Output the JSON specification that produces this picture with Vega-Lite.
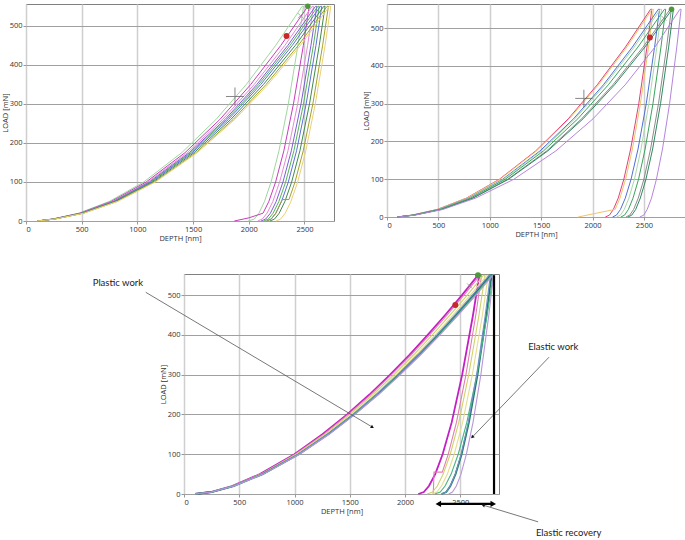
{
"$schema": "https://vega.github.io/schema/vega-lite/v6.json",
"autosize": {"type": "pad"},
"padding": {"left": 0, "top": 3, "right": 0, "bottom": 0},
"background": "white",
"config": {
 "view": {"stroke": "#808080", "strokeWidth": 1},
 "axis": {"format": "d", "labelFont": "Open Sans", "titleFont": "Open Sans", "labelFontSize": 7.5, "titleFontSize": 7.5, "titleFontWeight": "normal", "labelColor": "#333", "titleColor": "#333", "domain": false, "tickColor": "#999", "tickSize": 3, "labelPadding": 1, "titlePadding": 2},
 "axisY": {"titlePadding": 0}
},
"datasets": {
"tl": [
{"c":"c1","d":100,"p":0},{"c":"c1","d":236,"p":5},{"c":"c1","d":473,"p":20},{"c":"c1","d":747,"p":50},{"c":"c1","d":1057,"p":100},{"c":"c1","d":1398,"p":175},{"c":"c1","d":1705,"p":260},{"c":"c1","d":1978,"p":350},{"c":"c1","d":2242,"p":450},{"c":"c1","d":2479,"p":550},{"c":"c1","d":2491,"p":550},{"c":"c1","d":2441,"p":450},{"c":"c1","d":2355,"p":300},{"c":"c1","d":2271,"p":180},{"c":"c1","d":2200,"p":100},{"c":"c1","d":2141,"p":50},{"c":"c1","d":2091,"p":20},{"c":"c1","d":2050,"p":5},{"c":"c1","d":1995,"p":0},
{"c":"c2","d":100,"p":0},{"c":"c2","d":241,"p":5},{"c":"c2","d":483,"p":20},{"c":"c2","d":763,"p":50},{"c":"c2","d":1079,"p":100},{"c":"c2","d":1427,"p":175},{"c":"c2","d":1740,"p":260},{"c":"c2","d":2018,"p":350},{"c":"c2","d":2288,"p":450},{"c":"c2","d":2530,"p":550},{"c":"c2","d":2542,"p":550},{"c":"c2","d":2490,"p":450},{"c":"c2","d":2401,"p":300},{"c":"c2","d":2315,"p":180},{"c":"c2","d":2241,"p":100},{"c":"c2","d":2180,"p":50},{"c":"c2","d":2128,"p":20},{"c":"c2","d":2000,"p":8},{"c":"c2","d":1870,"p":0},
{"c":"c3","d":100,"p":0},{"c":"c3","d":245,"p":5},{"c":"c3","d":490,"p":20},{"c":"c3","d":775,"p":50},{"c":"c3","d":1095,"p":100},{"c":"c3","d":1449,"p":175},{"c":"c3","d":1766,"p":260},{"c":"c3","d":2049,"p":350},{"c":"c3","d":2324,"p":450},{"c":"c3","d":2569,"p":550},{"c":"c3","d":2581,"p":550},{"c":"c3","d":2528,"p":450},{"c":"c3","d":2439,"p":300},{"c":"c3","d":2352,"p":180},{"c":"c3","d":2277,"p":100},{"c":"c3","d":2216,"p":50},{"c":"c3","d":2164,"p":20},{"c":"c3","d":2121,"p":5},{"c":"c3","d":2080,"p":0},
{"c":"c4","d":100,"p":0},{"c":"c4","d":248,"p":5},{"c":"c4","d":496,"p":20},{"c":"c4","d":784,"p":50},{"c":"c4","d":1108,"p":100},{"c":"c4","d":1466,"p":175},{"c":"c4","d":1787,"p":260},{"c":"c4","d":2073,"p":350},{"c":"c4","d":2351,"p":450},{"c":"c4","d":2599,"p":550},{"c":"c4","d":2611,"p":550},{"c":"c4","d":2558,"p":450},{"c":"c4","d":2469,"p":300},{"c":"c4","d":2382,"p":180},{"c":"c4","d":2307,"p":100},{"c":"c4","d":2246,"p":50},{"c":"c4","d":2194,"p":20},{"c":"c4","d":2152,"p":5},{"c":"c4","d":2110,"p":0},
{"c":"c5","d":100,"p":0},{"c":"c5","d":250,"p":5},{"c":"c5","d":500,"p":20},{"c":"c5","d":790,"p":50},{"c":"c5","d":1117,"p":100},{"c":"c5","d":1478,"p":175},{"c":"c5","d":1802,"p":260},{"c":"c5","d":2090,"p":350},{"c":"c5","d":2370,"p":450},{"c":"c5","d":2620,"p":550},{"c":"c5","d":2632,"p":550},{"c":"c5","d":2580,"p":450},{"c":"c5","d":2491,"p":300},{"c":"c5","d":2405,"p":180},{"c":"c5","d":2331,"p":100},{"c":"c5","d":2270,"p":50},{"c":"c5","d":2218,"p":20},{"c":"c5","d":2176,"p":5},{"c":"c5","d":2135,"p":0},
{"c":"c6","d":100,"p":0},{"c":"c6","d":252,"p":5},{"c":"c6","d":504,"p":20},{"c":"c6","d":797,"p":50},{"c":"c6","d":1127,"p":100},{"c":"c6","d":1491,"p":175},{"c":"c6","d":1817,"p":260},{"c":"c6","d":2108,"p":350},{"c":"c6","d":2391,"p":450},{"c":"c6","d":2643,"p":550},{"c":"c6","d":2655,"p":550},{"c":"c6","d":2603,"p":450},{"c":"c6","d":2515,"p":300},{"c":"c6","d":2429,"p":180},{"c":"c6","d":2355,"p":100},{"c":"c6","d":2294,"p":50},{"c":"c6","d":2243,"p":20},{"c":"c6","d":2201,"p":5},{"c":"c6","d":2160,"p":0},
{"c":"c7","d":100,"p":0},{"c":"c7","d":255,"p":5},{"c":"c7","d":510,"p":20},{"c":"c7","d":806,"p":50},{"c":"c7","d":1140,"p":100},{"c":"c7","d":1508,"p":175},{"c":"c7","d":1838,"p":260},{"c":"c7","d":2132,"p":350},{"c":"c7","d":2418,"p":450},{"c":"c7","d":2673,"p":550},{"c":"c7","d":2685,"p":550},{"c":"c7","d":2633,"p":450},{"c":"c7","d":2545,"p":300},{"c":"c7","d":2459,"p":180},{"c":"c7","d":2385,"p":100},{"c":"c7","d":2324,"p":50},{"c":"c7","d":2273,"p":20},{"c":"c7","d":2231,"p":5},{"c":"c7","d":2190,"p":0},
{"c":"c8","d":100,"p":0},{"c":"c8","d":258,"p":5},{"c":"c8","d":516,"p":20},{"c":"c8","d":815,"p":50},{"c":"c8","d":1153,"p":100},{"c":"c8","d":1525,"p":175},{"c":"c8","d":1859,"p":260},{"c":"c8","d":2156,"p":350},{"c":"c8","d":2445,"p":450},{"c":"c8","d":2703,"p":550},{"c":"c8","d":2715,"p":550},{"c":"c8","d":2663,"p":450},{"c":"c8","d":2575,"p":300},{"c":"c8","d":2489,"p":180},{"c":"c8","d":2415,"p":100},{"c":"c8","d":2361,"p":55},{"c":"c8","d":2300,"p":55},{"c":"c8","d":2243,"p":20},{"c":"c8","d":2201,"p":5},{"c":"c8","d":2160,"p":0},
{"c":"c9","d":100,"p":0},{"c":"c9","d":260,"p":5},{"c":"c9","d":520,"p":20},{"c":"c9","d":821,"p":50},{"c":"c9","d":1162,"p":100},{"c":"c9","d":1537,"p":175},{"c":"c9","d":1873,"p":260},{"c":"c9","d":2173,"p":350},{"c":"c9","d":2464,"p":450},{"c":"c9","d":2724,"p":550},{"c":"c9","d":2736,"p":550},{"c":"c9","d":2685,"p":450},{"c":"c9","d":2597,"p":300},{"c":"c9","d":2512,"p":180},{"c":"c9","d":2439,"p":100},{"c":"c9","d":2378,"p":50},{"c":"c9","d":2327,"p":20},{"c":"c9","d":2286,"p":5},{"c":"c9","d":2245,"p":0}
],
"tr": [
{"c":"t1","d":100,"p":0},{"c":"t1","d":244,"p":5},{"c":"t1","d":489,"p":20},{"c":"t1","d":773,"p":50},{"c":"t1","d":1094,"p":100},{"c":"t1","d":1447,"p":175},{"c":"t1","d":1764,"p":260},{"c":"t1","d":2046,"p":350},{"c":"t1","d":2320,"p":450},{"c":"t1","d":2565,"p":550},{"c":"t1","d":2577,"p":550},{"c":"t1","d":2530,"p":450},{"c":"t1","d":2450,"p":300},{"c":"t1","d":2371,"p":180},{"c":"t1","d":2305,"p":100},{"c":"t1","d":2250,"p":50},{"c":"t1","d":2203,"p":20},{"c":"t1","d":2165,"p":5},{"c":"t1","d":2125,"p":0},
{"c":"t2","d":100,"p":0},{"c":"t2","d":246,"p":5},{"c":"t2","d":492,"p":20},{"c":"t2","d":778,"p":50},{"c":"t2","d":1100,"p":100},{"c":"t2","d":1455,"p":175},{"c":"t2","d":1774,"p":260},{"c":"t2","d":2058,"p":350},{"c":"t2","d":2334,"p":450},{"c":"t2","d":2580,"p":550},{"c":"t2","d":2592,"p":550},{"c":"t2","d":2545,"p":450},{"c":"t2","d":2466,"p":300},{"c":"t2","d":2388,"p":180},{"c":"t2","d":2322,"p":100},{"c":"t2","d":2267,"p":50},{"c":"t2","d":2220,"p":20},{"c":"t2","d":2160,"p":17},{"c":"t2","d":1860,"p":0},
{"c":"t3","d":100,"p":0},{"c":"t3","d":252,"p":5},{"c":"t3","d":503,"p":20},{"c":"t3","d":796,"p":50},{"c":"t3","d":1126,"p":100},{"c":"t3","d":1489,"p":175},{"c":"t3","d":1815,"p":260},{"c":"t3","d":2106,"p":350},{"c":"t3","d":2388,"p":450},{"c":"t3","d":2640,"p":550},{"c":"t3","d":2652,"p":550},{"c":"t3","d":2604,"p":450},{"c":"t3","d":2523,"p":300},{"c":"t3","d":2443,"p":180},{"c":"t3","d":2375,"p":100},{"c":"t3","d":2319,"p":50},{"c":"t3","d":2272,"p":20},{"c":"t3","d":2233,"p":5},{"c":"t3","d":2195,"p":0},
{"c":"t4","d":100,"p":0},{"c":"t4","d":254,"p":5},{"c":"t4","d":507,"p":20},{"c":"t4","d":802,"p":50},{"c":"t4","d":1134,"p":100},{"c":"t4","d":1501,"p":175},{"c":"t4","d":1829,"p":260},{"c":"t4","d":2122,"p":350},{"c":"t4","d":2406,"p":450},{"c":"t4","d":2660,"p":550},{"c":"t4","d":2672,"p":550},{"c":"t4","d":2626,"p":450},{"c":"t4","d":2548,"p":300},{"c":"t4","d":2472,"p":180},{"c":"t4","d":2408,"p":100},{"c":"t4","d":2354,"p":50},{"c":"t4","d":2309,"p":20},{"c":"t4","d":2272,"p":5},{"c":"t4","d":2235,"p":0},
{"c":"t5","d":100,"p":0},{"c":"t5","d":257,"p":5},{"c":"t5","d":515,"p":20},{"c":"t5","d":814,"p":50},{"c":"t5","d":1151,"p":100},{"c":"t5","d":1523,"p":175},{"c":"t5","d":1857,"p":260},{"c":"t5","d":2154,"p":350},{"c":"t5","d":2442,"p":450},{"c":"t5","d":2700,"p":550},{"c":"t5","d":2712,"p":550},{"c":"t5","d":2666,"p":450},{"c":"t5","d":2588,"p":300},{"c":"t5","d":2512,"p":180},{"c":"t5","d":2448,"p":100},{"c":"t5","d":2394,"p":50},{"c":"t5","d":2349,"p":20},{"c":"t5","d":2312,"p":5},{"c":"t5","d":2275,"p":0},
{"c":"t6","d":100,"p":0},{"c":"t6","d":263,"p":5},{"c":"t6","d":525,"p":20},{"c":"t6","d":831,"p":50},{"c":"t6","d":1175,"p":100},{"c":"t6","d":1554,"p":175},{"c":"t6","d":1894,"p":260},{"c":"t6","d":2198,"p":350},{"c":"t6","d":2492,"p":450},{"c":"t6","d":2755,"p":550},{"c":"t6","d":2767,"p":550},{"c":"t6","d":2721,"p":450},{"c":"t6","d":2642,"p":300},{"c":"t6","d":2565,"p":180},{"c":"t6","d":2500,"p":100},{"c":"t6","d":2445,"p":50},{"c":"t6","d":2400,"p":20},{"c":"t6","d":2362,"p":5},{"c":"t6","d":2325,"p":0},
{"c":"t7","d":100,"p":0},{"c":"t7","d":265,"p":5},{"c":"t7","d":529,"p":20},{"c":"t7","d":837,"p":50},{"c":"t7","d":1183,"p":100},{"c":"t7","d":1565,"p":175},{"c":"t7","d":1908,"p":260},{"c":"t7","d":2214,"p":350},{"c":"t7","d":2510,"p":450},{"c":"t7","d":2775,"p":550},{"c":"t7","d":2787,"p":550},{"c":"t7","d":2741,"p":450},{"c":"t7","d":2662,"p":300},{"c":"t7","d":2585,"p":180},{"c":"t7","d":2520,"p":100},{"c":"t7","d":2465,"p":50},{"c":"t7","d":2420,"p":20},{"c":"t7","d":2382,"p":5},{"c":"t7","d":2345,"p":0},
{"c":"t8","d":100,"p":0},{"c":"t8","d":272,"p":5},{"c":"t8","d":544,"p":20},{"c":"t8","d":862,"p":50},{"c":"t8","d":1235,"p":100},{"c":"t8","d":1643,"p":175},{"c":"t8","d":2005,"p":260},{"c":"t8","d":2318,"p":350},{"c":"t8","d":2608,"p":450},{"c":"t8","d":2850,"p":550},{"c":"t8","d":2862,"p":550},{"c":"t8","d":2820,"p":450},{"c":"t8","d":2750,"p":300},{"c":"t8","d":2681,"p":180},{"c":"t8","d":2622,"p":100},{"c":"t8","d":2574,"p":50},{"c":"t8","d":2532,"p":20},{"c":"t8","d":2499,"p":5},{"c":"t8","d":2460,"p":0}
],
"bt": [
{"c":"b1","d":100,"p":0},{"c":"b1","d":243,"p":5},{"c":"b1","d":435,"p":20},{"c":"b1","d":687,"p":50},{"c":"b1","d":999,"p":100},{"c":"b1","d":1253,"p":150},{"c":"b1","d":1476,"p":200},{"c":"b1","d":1678,"p":250},{"c":"b1","d":1865,"p":300},{"c":"b1","d":2040,"p":350},{"c":"b1","d":2205,"p":400},{"c":"b1","d":2363,"p":450},{"c":"b1","d":2515,"p":500},{"c":"b1","d":2660,"p":550},{"c":"b1","d":2672,"p":550},{"c":"b1","d":2615,"p":450},{"c":"b1","d":2517,"p":300},{"c":"b1","d":2422,"p":180},{"c":"b1","d":2340,"p":100},{"c":"b1","d":2273,"p":50},{"c":"b1","d":2216,"p":20},{"c":"b1","d":2170,"p":5},{"c":"b1","d":2120,"p":0},
{"c":"b2","d":100,"p":0},{"c":"b2","d":244,"p":5},{"c":"b2","d":437,"p":20},{"c":"b2","d":692,"p":50},{"c":"b2","d":1006,"p":100},{"c":"b2","d":1262,"p":150},{"c":"b2","d":1486,"p":200},{"c":"b2","d":1690,"p":250},{"c":"b2","d":1878,"p":300},{"c":"b2","d":2055,"p":350},{"c":"b2","d":2222,"p":400},{"c":"b2","d":2381,"p":450},{"c":"b2","d":2533,"p":500},{"c":"b2","d":2680,"p":550},{"c":"b2","d":2692,"p":550},{"c":"b2","d":2640,"p":450},{"c":"b2","d":2551,"p":300},{"c":"b2","d":2465,"p":180},{"c":"b2","d":2391,"p":100},{"c":"b2","d":2337,"p":55},{"c":"b2","d":2262,"p":55},{"c":"b2","d":2258,"p":20},{"c":"b2","d":2254,"p":0},
{"c":"b3","d":100,"p":0},{"c":"b3","d":246,"p":5},{"c":"b3","d":441,"p":20},{"c":"b3","d":699,"p":50},{"c":"b3","d":1016,"p":100},{"c":"b3","d":1276,"p":150},{"c":"b3","d":1503,"p":200},{"c":"b3","d":1709,"p":250},{"c":"b3","d":1900,"p":300},{"c":"b3","d":2078,"p":350},{"c":"b3","d":2247,"p":400},{"c":"b3","d":2408,"p":450},{"c":"b3","d":2563,"p":500},{"c":"b3","d":2711,"p":550},{"c":"b3","d":2723,"p":550},{"c":"b3","d":2669,"p":450},{"c":"b3","d":2576,"p":300},{"c":"b3","d":2486,"p":180},{"c":"b3","d":2409,"p":100},{"c":"b3","d":2345,"p":50},{"c":"b3","d":2292,"p":20},{"c":"b3","d":2248,"p":5},{"c":"b3","d":2200,"p":0},
{"c":"b4","d":100,"p":0},{"c":"b4","d":247,"p":5},{"c":"b4","d":445,"p":20},{"c":"b4","d":706,"p":50},{"c":"b4","d":1027,"p":100},{"c":"b4","d":1290,"p":150},{"c":"b4","d":1519,"p":200},{"c":"b4","d":1727,"p":250},{"c":"b4","d":1920,"p":300},{"c":"b4","d":2101,"p":350},{"c":"b4","d":2272,"p":400},{"c":"b4","d":2435,"p":450},{"c":"b4","d":2591,"p":500},{"c":"b4","d":2741,"p":550},{"c":"b4","d":2753,"p":550},{"c":"b4","d":2700,"p":450},{"c":"b4","d":2609,"p":300},{"c":"b4","d":2521,"p":180},{"c":"b4","d":2445,"p":100},{"c":"b4","d":2383,"p":50},{"c":"b4","d":2330,"p":20},{"c":"b4","d":2287,"p":5},{"c":"b4","d":2240,"p":0},
{"c":"b5","d":100,"p":0},{"c":"b5","d":249,"p":5},{"c":"b5","d":449,"p":20},{"c":"b5","d":713,"p":50},{"c":"b5","d":1038,"p":100},{"c":"b5","d":1303,"p":150},{"c":"b5","d":1535,"p":200},{"c":"b5","d":1746,"p":250},{"c":"b5","d":1941,"p":300},{"c":"b5","d":2124,"p":350},{"c":"b5","d":2297,"p":400},{"c":"b5","d":2461,"p":450},{"c":"b5","d":2619,"p":500},{"c":"b5","d":2771,"p":550},{"c":"b5","d":2783,"p":550},{"c":"b5","d":2736,"p":450},{"c":"b5","d":2656,"p":300},{"c":"b5","d":2578,"p":180},{"c":"b5","d":2512,"p":100},{"c":"b5","d":2457,"p":50},{"c":"b5","d":2410,"p":20},{"c":"b5","d":2373,"p":5},{"c":"b5","d":2330,"p":0},
{"c":"b6","d":100,"p":0},{"c":"b6","d":250,"p":5},{"c":"b6","d":451,"p":20},{"c":"b6","d":716,"p":50},{"c":"b6","d":1043,"p":100},{"c":"b6","d":1310,"p":150},{"c":"b6","d":1544,"p":200},{"c":"b6","d":1755,"p":250},{"c":"b6","d":1952,"p":300},{"c":"b6","d":2135,"p":350},{"c":"b6","d":2309,"p":400},{"c":"b6","d":2475,"p":450},{"c":"b6","d":2633,"p":500},{"c":"b6","d":2786,"p":550},{"c":"b6","d":2798,"p":550},{"c":"b6","d":2743,"p":450},{"c":"b6","d":2650,"p":300},{"c":"b6","d":2559,"p":180},{"c":"b6","d":2481,"p":100},{"c":"b6","d":2417,"p":50},{"c":"b6","d":2362,"p":20},{"c":"b6","d":2318,"p":5},{"c":"b6","d":2270,"p":0},
{"c":"b7","d":100,"p":0},{"c":"b7","d":248,"p":5},{"c":"b7","d":448,"p":20},{"c":"b7","d":710,"p":50},{"c":"b7","d":1034,"p":100},{"c":"b7","d":1298,"p":150},{"c":"b7","d":1530,"p":200},{"c":"b7","d":1739,"p":250},{"c":"b7","d":1934,"p":300},{"c":"b7","d":2116,"p":350},{"c":"b7","d":2288,"p":400},{"c":"b7","d":2452,"p":450},{"c":"b7","d":2609,"p":500},{"c":"b7","d":2760,"p":550},{"c":"b7","d":2772,"p":550},{"c":"b7","d":2726,"p":450},{"c":"b7","d":2648,"p":300},{"c":"b7","d":2572,"p":180},{"c":"b7","d":2508,"p":100},{"c":"b7","d":2454,"p":50},{"c":"b7","d":2409,"p":20},{"c":"b7","d":2372,"p":5},{"c":"b7","d":2335,"p":0},
{"c":"b8","d":100,"p":0},{"c":"b8","d":250,"p":5},{"c":"b8","d":452,"p":20},{"c":"b8","d":718,"p":50},{"c":"b8","d":1046,"p":100},{"c":"b8","d":1314,"p":150},{"c":"b8","d":1548,"p":200},{"c":"b8","d":1761,"p":250},{"c":"b8","d":1958,"p":300},{"c":"b8","d":2142,"p":350},{"c":"b8","d":2316,"p":400},{"c":"b8","d":2483,"p":450},{"c":"b8","d":2642,"p":500},{"c":"b8","d":2795,"p":550},{"c":"b8","d":2800,"p":550},{"c":"b8","d":2758,"p":450},{"c":"b8","d":2686,"p":300},{"c":"b8","d":2615,"p":180},{"c":"b8","d":2555,"p":100},{"c":"b8","d":2506,"p":50},{"c":"b8","d":2464,"p":20},{"c":"b8","d":2429,"p":5},{"c":"b8","d":2395,"p":0}
],
"tlm": [{"k":"plus","d":1876,"p":319},{"k":"x","d":2464,"p":526},{"k":"red","d":2339,"p":474},{"k":"max","d":2530,"p":550}],
"trm": [{"k":"plus","d":1916,"p":314},{"k":"x","d":2695,"p":526},{"k":"red","d":2558,"p":475},{"k":"max","d":2769,"p":550}],
"btm": [{"k":"x","d":2584,"p":523},{"k":"red","d":2455,"p":475},{"k":"max","d":2660,"p":550}],
"ann": [
{"k":"gray","n":"pw","d":-346,"p":507,"d2":1705,"p2":168},
{"k":"gray","n":"ew","d":3303,"p":344,"d2":2608,"p2":143},
{"k":"gray","n":"er","d":3204,"p":-70,"d2":2707,"p2":-28},
{"k":"black","n":"vline","d":2805,"p":0,"d2":2805,"p2":550},
{"k":"black","n":"harrow","d":2301,"p":-25,"d2":2798,"p2":-25},
{"k":"head","n":"pw","d":1705,"p":168},
{"k":"head","n":"ew","d":2608,"p":143},
{"k":"head","n":"er","d":2707,"p":-28},
{"k":"head","n":"hl","d":2301,"p":-25},
{"k":"head","n":"hr","d":2798,"p":-25},
{"k":"text","n":"pw","d":-826,"p":530,"t":"Plastic work"},
{"k":"text","n":"ew","d":3114,"p":369,"t":"Elastic work"},
{"k":"text","n":"er","d":3184,"p":-98,"t":"Elastic recovery"}
]
},
"vconcat": [
{"hconcat": [
 {"width": 308, "height": 217,
  "layer": [
   {"data": {"name": "tl"}, "mark": {"type": "line", "strokeWidth": 1},
    "encoding": {
     "x": {"field": "d", "type": "quantitative", "scale": {"domain": [0, 2765], "nice": false, "zero": false}, "axis": {"orient": "bottom", "values": [0,500,1000,1500,2000,2500], "title": "DEPTH [nm]", "gridColor": "#cfcfcf", "gridWidth": 1.5}},
     "y": {"field": "p", "type": "quantitative", "scale": {"domain": [0, 556], "nice": false}, "axis": {"orient": "left", "values": [0,100,200,300,400,500], "title": "LOAD [mN]", "gridColor": "#a0a0a0"}},
     "color": {"field": "c", "type": "nominal", "legend": null, "scale": {"domain": ["c1","c2","c3","c4","c5","c6","c7","c8","c9","t1","t2","t3","t4","t5","t6","t7","t8","b1","b2","b3","b4","b5","b6","b7","b8"], "range": ["#9ed89e","#c83cbd","#e48ad6","#7a5ed4","#56b556","#5a70de","#3f8a4a","#a3a22a","#ecd075","#e0407c","#f0c46a","#4f6fd6","#a8daa8","#3aa45c","#8c8c8c","#2e8a5f","#b585dc","#c21fc4","#e27fb0","#cfd36a","#e6dd90","#1f7a60","#46b57f","#7090c8","#b996dc"]}},
     "order": {"value": null}
    }},
   {"data": {"name": "tlm"}, "transform": [{"filter": "datum.k=='plus'"}],
    "mark": {"type": "point", "shape": "M-1,0L1,0M0,-1L0,1", "size": 324, "filled": false, "stroke": "#555", "strokeWidth": 1},
    "encoding": {
     "x": {"field": "d", "type": "quantitative", "axis": {"orient": "bottom", "values": [100,200,300,400,600,700,800,900,1100,1200,1300,1400,1600,1700,1800,1900,2100,2200,2300,2400,2600,2700], "labels": false, "ticks": false, "domain": false, "title": null, "gridColor": "#d6d6d6", "gridDash": [1,2]}},
     "y": {"field": "p", "type": "quantitative", "axis": {"orient": "left", "values": [20,40,60,80,120,140,160,180,220,240,260,280,320,340,360,380,420,440,460,480,520,540], "labels": false, "ticks": false, "domain": false, "title": null, "gridColor": "#d6d6d6", "gridDash": [1,2]}}
    }},
   {"data": {"name": "tlm"}, "transform": [{"filter": "datum.k=='x'"}],
    "mark": {"type": "point", "shape": "M-1,-1L1,1M-1,1L1,-1", "size": 25, "filled": false, "stroke": "#9a7fa0", "strokeWidth": 1},
    "encoding": {"x": {"field": "d", "type": "quantitative", "axis": null}, "y": {"field": "p", "type": "quantitative", "axis": null}}},
   {"data": {"name": "tlm"}, "transform": [{"filter": "datum.k=='red'"}],
    "mark": {"type": "point", "shape": "circle", "size": 36, "filled": true, "color": "#c8282a", "opacity": 1},
    "encoding": {"x": {"field": "d", "type": "quantitative", "axis": null}, "y": {"field": "p", "type": "quantitative", "axis": null}}},
   {"data": {"name": "tlm"}, "transform": [{"filter": "datum.k=='max'"}],
    "mark": {"type": "point", "shape": "circle", "size": 30, "filled": true, "color": "#4a9a3a", "opacity": 1},
    "encoding": {"x": {"field": "d", "type": "quantitative", "axis": null}, "y": {"field": "p", "type": "quantitative", "axis": null}}}
  ],
  "resolve": {"axis": {"x": "independent", "y": "independent"}}
 },
 {"width": 298, "height": 213,
  "layer": [
   {"data": {"name": "tr"}, "mark": {"type": "line", "strokeWidth": 1},
    "encoding": {
     "x": {"field": "d", "type": "quantitative", "scale": {"domain": [0, 2900], "nice": false, "zero": false}, "axis": {"orient": "bottom", "values": [0,500,1000,1500,2000,2500], "title": "DEPTH [nm]", "gridColor": "#cfcfcf", "gridWidth": 1.5}},
     "y": {"field": "p", "type": "quantitative", "scale": {"domain": [0, 564], "nice": false}, "axis": {"orient": "left", "values": [0,100,200,300,400,500], "title": "LOAD [mN]", "gridColor": "#a0a0a0"}},
     "color": {"field": "c", "type": "nominal", "legend": null, "scale": {"domain": ["c1","c2","c3","c4","c5","c6","c7","c8","c9","t1","t2","t3","t4","t5","t6","t7","t8","b1","b2","b3","b4","b5","b6","b7","b8"], "range": ["#9ed89e","#c83cbd","#e48ad6","#7a5ed4","#56b556","#5a70de","#3f8a4a","#a3a22a","#ecd075","#e0407c","#f0c46a","#4f6fd6","#a8daa8","#3aa45c","#8c8c8c","#2e8a5f","#b585dc","#c21fc4","#e27fb0","#cfd36a","#e6dd90","#1f7a60","#46b57f","#7090c8","#b996dc"]}},
     "order": {"value": null}
    }},
   {"data": {"name": "trm"}, "transform": [{"filter": "datum.k=='plus'"}],
    "mark": {"type": "point", "shape": "M-1,0L1,0M0,-1L0,1", "size": 300, "filled": false, "stroke": "#555", "strokeWidth": 1},
    "encoding": {
     "x": {"field": "d", "type": "quantitative", "axis": {"orient": "bottom", "values": [100,200,300,400,600,700,800,900,1100,1200,1300,1400,1600,1700,1800,1900,2100,2200,2300,2400,2600,2700,2800], "labels": false, "ticks": false, "domain": false, "title": null, "gridColor": "#d6d6d6", "gridDash": [1,2]}},
     "y": {"field": "p", "type": "quantitative", "axis": {"orient": "left", "values": [20,40,60,80,120,140,160,180,220,240,260,280,320,340,360,380,420,440,460,480,520,540,560], "labels": false, "ticks": false, "domain": false, "title": null, "gridColor": "#d6d6d6", "gridDash": [1,2]}}
    }},
   {"data": {"name": "trm"}, "transform": [{"filter": "datum.k=='x'"}],
    "mark": {"type": "point", "shape": "M-1,-1L1,1M-1,1L1,-1", "size": 25, "filled": false, "stroke": "#888", "strokeWidth": 1},
    "encoding": {"x": {"field": "d", "type": "quantitative", "axis": null}, "y": {"field": "p", "type": "quantitative", "axis": null}}},
   {"data": {"name": "trm"}, "transform": [{"filter": "datum.k=='red'"}],
    "mark": {"type": "point", "shape": "circle", "size": 36, "filled": true, "color": "#c8282a", "opacity": 1},
    "encoding": {"x": {"field": "d", "type": "quantitative", "axis": null}, "y": {"field": "p", "type": "quantitative", "axis": null}}},
   {"data": {"name": "trm"}, "transform": [{"filter": "datum.k=='max'"}],
    "mark": {"type": "point", "shape": "circle", "size": 30, "filled": true, "color": "#4a9a3a", "opacity": 1},
    "encoding": {"x": {"field": "d", "type": "quantitative", "axis": null}, "y": {"field": "p", "type": "quantitative", "axis": null}}}
  ],
  "resolve": {"axis": {"x": "independent", "y": "independent"}}
 }
], "spacing": 53, "bounds": "flush"},
{"hconcat": [
 {"width": 100, "height": 10, "view": {"stroke": null}, "data": {"values": [{"d": 0}]}, "mark": {"type": "point", "opacity": 0}, "encoding": {}},
 {"width": 315, "height": 220,
  "layer": [
   {"data": {"name": "bt"}, "mark": {"type": "line"},
    "encoding": {
     "x": {"field": "d", "type": "quantitative", "scale": {"domain": [0, 2850], "nice": false, "zero": false}, "axis": {"orient": "bottom", "values": [0,500,1000,1500,2000,2500], "title": "DEPTH [nm]", "gridColor": "#cfcfcf", "gridWidth": 1.5}},
     "y": {"field": "p", "type": "quantitative", "scale": {"domain": [0, 553], "nice": false}, "axis": {"orient": "left", "values": [0,100,200,300,400,500], "title": "LOAD [mN]", "gridColor": "#a0a0a0"}},
     "color": {"field": "c", "type": "nominal", "legend": null, "scale": {"domain": ["c1","c2","c3","c4","c5","c6","c7","c8","c9","t1","t2","t3","t4","t5","t6","t7","t8","b1","b2","b3","b4","b5","b6","b7","b8"], "range": ["#9ed89e","#c83cbd","#e48ad6","#7a5ed4","#56b556","#5a70de","#3f8a4a","#a3a22a","#ecd075","#e0407c","#f0c46a","#4f6fd6","#a8daa8","#3aa45c","#8c8c8c","#2e8a5f","#b585dc","#c21fc4","#e27fb0","#cfd36a","#e6dd90","#1f7a60","#46b57f","#7090c8","#b996dc"]}},
     "strokeWidth": {"condition": {"test": "datum.c=='b1'||datum.c=='b5'", "value": 1.8}, "value": 1.1},
     "order": {"value": null}
    }},
   {"data": {"name": "btm"}, "transform": [{"filter": "datum.k=='x'"}],
    "mark": {"type": "point", "shape": "M-1,-1L1,1M-1,1L1,-1", "size": 25, "filled": false, "stroke": "#9a7fa0", "strokeWidth": 1},
    "encoding": {
     "x": {"field": "d", "type": "quantitative", "axis": {"orient": "bottom", "values": [100,200,300,400,600,700,800,900,1100,1200,1300,1400,1600,1700,1800,1900,2100,2200,2300,2400,2600,2700,2800], "labels": false, "ticks": false, "domain": false, "title": null, "gridColor": "#d6d6d6", "gridDash": [1,2]}},
     "y": {"field": "p", "type": "quantitative", "axis": {"orient": "left", "values": [20,40,60,80,120,140,160,180,220,240,260,280,320,340,360,380,420,440,460,480,520,540], "labels": false, "ticks": false, "domain": false, "title": null, "gridColor": "#d6d6d6", "gridDash": [1,2]}}
    }},
   {"data": {"name": "btm"}, "transform": [{"filter": "datum.k=='red'"}],
    "mark": {"type": "point", "shape": "circle", "size": 36, "filled": true, "color": "#c8282a", "opacity": 1},
    "encoding": {"x": {"field": "d", "type": "quantitative", "axis": null}, "y": {"field": "p", "type": "quantitative", "axis": null}}},
   {"data": {"name": "btm"}, "transform": [{"filter": "datum.k=='max'"}],
    "mark": {"type": "point", "shape": "circle", "size": 36, "filled": true, "color": "#4a9a3a", "opacity": 1},
    "encoding": {"x": {"field": "d", "type": "quantitative", "axis": null}, "y": {"field": "p", "type": "quantitative", "axis": null}}},
   {"data": {"name": "ann"}, "transform": [{"filter": "datum.k=='gray'"}],
    "mark": {"type": "rule", "color": "#555", "strokeWidth": 0.8},
    "encoding": {"x": {"field": "d", "type": "quantitative", "axis": null}, "y": {"field": "p", "type": "quantitative", "axis": null}, "x2": {"field": "d2"}, "y2": {"field": "p2"}}},
   {"data": {"name": "ann"}, "transform": [{"filter": "datum.k=='black'"}],
    "mark": {"type": "rule", "color": "#000", "strokeWidth": 2.2},
    "encoding": {"x": {"field": "d", "type": "quantitative", "axis": null}, "y": {"field": "p", "type": "quantitative", "axis": null}, "x2": {"field": "d2"}, "y2": {"field": "p2"}}},
   {"data": {"name": "ann"}, "transform": [{"filter": "datum.k=='head' && datum.n=='pw'"}],
    "mark": {"type": "point", "shape": "triangle-right", "angle": 30.7, "size": 14, "filled": true, "color": "#111", "opacity": 1},
    "encoding": {"x": {"field": "d", "type": "quantitative", "axis": null}, "y": {"field": "p", "type": "quantitative", "axis": null}}},
   {"data": {"name": "ann"}, "transform": [{"filter": "datum.k=='head' && datum.n=='ew'"}],
    "mark": {"type": "point", "shape": "triangle-right", "angle": 134, "size": 14, "filled": true, "color": "#111", "opacity": 1},
    "encoding": {"x": {"field": "d", "type": "quantitative", "axis": null}, "y": {"field": "p", "type": "quantitative", "axis": null}}},
   {"data": {"name": "ann"}, "transform": [{"filter": "datum.k=='head' && datum.n=='er'"}],
    "mark": {"type": "point", "shape": "triangle-right", "angle": 197, "size": 14, "filled": true, "color": "#111", "opacity": 1},
    "encoding": {"x": {"field": "d", "type": "quantitative", "axis": null}, "y": {"field": "p", "type": "quantitative", "axis": null}}},
   {"data": {"name": "ann"}, "transform": [{"filter": "datum.k=='head' && datum.n=='hl'"}],
    "mark": {"type": "point", "shape": "triangle-right", "angle": 180, "size": 40, "filled": true, "color": "#000", "opacity": 1},
    "encoding": {"x": {"field": "d", "type": "quantitative", "axis": null}, "y": {"field": "p", "type": "quantitative", "axis": null}}},
   {"data": {"name": "ann"}, "transform": [{"filter": "datum.k=='head' && datum.n=='hr'"}],
    "mark": {"type": "point", "shape": "triangle-right", "angle": 0, "size": 40, "filled": true, "color": "#000", "opacity": 1},
    "encoding": {"x": {"field": "d", "type": "quantitative", "axis": null}, "y": {"field": "p", "type": "quantitative", "axis": null}}},
   {"data": {"name": "ann"}, "transform": [{"filter": "datum.k=='text'"}],
    "mark": {"type": "text", "align": "left", "baseline": "middle", "font": "Lato", "fontSize": 9.5, "color": "#222"},
    "encoding": {"x": {"field": "d", "type": "quantitative", "axis": null}, "y": {"field": "p", "type": "quantitative", "axis": null}, "text": {"field": "t"}}}
  ],
  "resolve": {"axis": {"x": "independent", "y": "independent"}}
 }
], "spacing": 58, "bounds": "flush"}
],
"spacing": 28
}
